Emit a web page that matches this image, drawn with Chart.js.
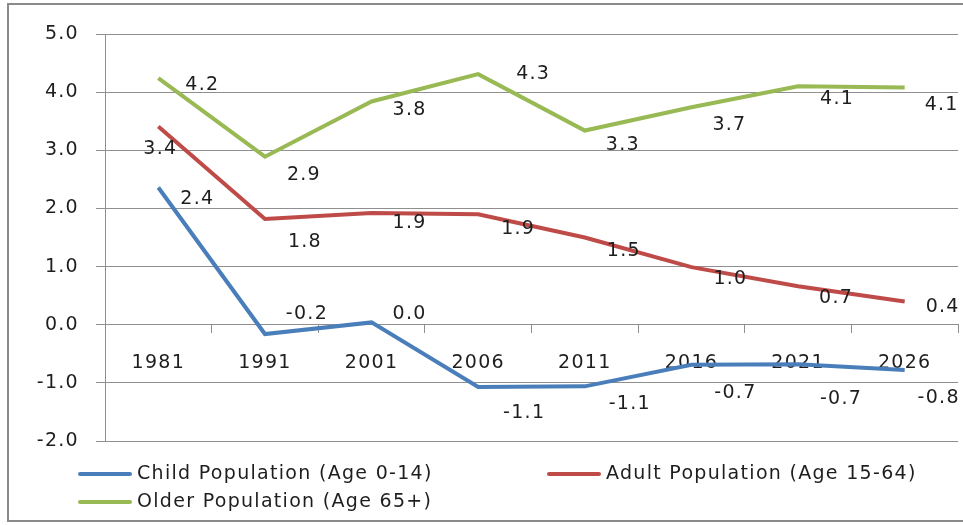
<!DOCTYPE html>
<html>
<head>
<meta charset="utf-8">
<script src="https://cdn.jsdelivr.net/npm/chart.js@4.4.1/dist/chart.umd.min.js"></script>
<style>
  html, body { margin: 0; padding: 0; background: #ffffff; }
  #wrap { width: 963px; height: 525px; position: relative; }
</style>
</head>
<body>
<div id="wrap"><canvas id="c" width="963" height="525"></canvas></div>
<script>
// ---- data ----
const categories = ['1981', '1991', '2001', '2006', '2011', '2016', '2021', '2026'];
const childValues = [2.36, -0.16, 0.04, -1.07, -1.06, -0.69, -0.68, -0.78];
const adultValues = [3.41, 1.82, 1.92, 1.90, 1.50, 0.99, 0.66, 0.40];
const olderValues = [4.24, 2.89, 3.84, 4.31, 3.34, 3.74, 4.10, 4.08];
const seriesNames = ['Child Population (Age 0-14)', 'Adult Population (Age 15-64)', 'Older Population (Age 65+)'];
const yTicks = [-2, -1, 0, 1, 2, 3, 4, 5];

// ---- styles ----
const FONT = '"DejaVu Sans", Verdana, sans-serif';
const FONT_SIZE = 19;
const LETTER_SPACING = '1.3px';
const TEXT_COLOR = '#1e1e1e';
const GRID_COLOR = '#8f8f8f';
const colors = ['#4A7EBB', '#BE4B48', '#98B954'];
// data label offsets (pixels from point), per series
const labelOffsets = [
  [[39, 12], [42, -20], [38, -8], [46, 26], [45, 18], [44, 28], [43, 35], [34, 28]],
  [[2, 23], [40, 23], [38, 10], [40, 15], [39, 14], [39, 12], [38, 12], [38, 6]],
  [[44, 7], [39, 18], [38, 9], [55, 0], [38, 15], [38, 18], [39, 13], [37, 18]]
];
// legend layout
const legendItems = [
  { x: 78, y: 474 },
  { x: 547, y: 474 },
  { x: 78, y: 502 }
];

const frame = {
  id: 'frame',
  beforeDraw(chart) {
    const ctx = chart.ctx;
    ctx.save();
    ctx.fillStyle = '#ffffff';
    ctx.fillRect(0, 0, chart.width, chart.height);
    ctx.strokeStyle = '#8a8a8a';
    ctx.lineWidth = 2;
    ctx.strokeRect(8, 4, 970, 517);
    ctx.restore();
    ctx.letterSpacing = LETTER_SPACING;
  }
};

const dataLabels = {
  id: 'dataLabels',
  afterDatasetsDraw(chart) {
    const ctx = chart.ctx;
    ctx.save();
    ctx.letterSpacing = LETTER_SPACING;
    ctx.font = FONT_SIZE + 'px ' + FONT;
    ctx.fillStyle = TEXT_COLOR;
    ctx.textAlign = 'center';
    ctx.textBaseline = 'middle';
    chart.data.datasets.forEach((ds, di) => {
      const meta = chart.getDatasetMeta(di);
      meta.data.forEach((pt, i) => {
        const off = labelOffsets[di][i];
        ctx.fillText(ds.data[i].toFixed(1), pt.x + off[0], pt.y + off[1]);
      });
    });
    ctx.restore();
  }
};

const customLegend = {
  id: 'customLegend',
  afterDraw(chart) {
    const ctx = chart.ctx;
    ctx.save();
    ctx.letterSpacing = LETTER_SPACING;
    ctx.font = FONT_SIZE + 'px ' + FONT;
    ctx.fillStyle = TEXT_COLOR;
    ctx.textAlign = 'left';
    ctx.textBaseline = 'middle';
    chart.data.datasets.forEach((ds, di) => {
      const p = legendItems[di];
      ctx.strokeStyle = ds.borderColor;
      ctx.lineWidth = 4;
      ctx.lineCap = 'round';
      ctx.beginPath();
      ctx.moveTo(p.x + 2, p.y);
      ctx.lineTo(p.x + 52, p.y);
      ctx.stroke();
      ctx.fillText(ds.label, p.x + 59, p.y);
    });
    ctx.restore();
  }
};

new Chart(document.getElementById('c'), {
  type: 'line',
  data: {
    labels: categories,
    datasets: [childValues, adultValues, olderValues].map((vals, i) => ({
      label: seriesNames[i],
      data: vals,
      borderColor: colors[i],
      backgroundColor: colors[i],
      borderWidth: 4,
      pointRadius: 0,
      pointHoverRadius: 0,
      tension: 0,
      fill: false
    }))
  },
  options: {
    responsive: false,
    animation: false,
    devicePixelRatio: 1,
    layout: { padding: { left: 0, right: 5, top: 34, bottom: 84 } },
    plugins: { legend: { display: false }, tooltip: { enabled: false } },
    scales: {
      x: {
        type: 'category',
        position: { y: 0 },
        offset: true,
        grid: { display: true, drawOnChartArea: false, drawTicks: true, tickLength: 8, color: GRID_COLOR, offset: true },
        border: { display: true, color: GRID_COLOR, width: 1 },
        ticks: { color: TEXT_COLOR, font: { family: FONT, size: FONT_SIZE }, padding: 19, maxRotation: 0, autoSkip: false }
      },
      y: {
        min: -2,
        max: 5,
        afterFit(scale) { scale.width = 105; },
        afterBuildTicks(scale) { scale.ticks = yTicks.map(v => ({ value: v })); },
        grid: { color: GRID_COLOR, tickLength: 9, lineWidth: 1 },
        border: { display: true, color: GRID_COLOR, width: 1 },
        ticks: {
          color: TEXT_COLOR,
          font: { family: FONT, size: FONT_SIZE },
          padding: 17,
          callback: v => Number(v).toFixed(1)
        }
      }
    }
  },
  plugins: [frame, dataLabels, customLegend]
});
</script>
</body>
</html>
